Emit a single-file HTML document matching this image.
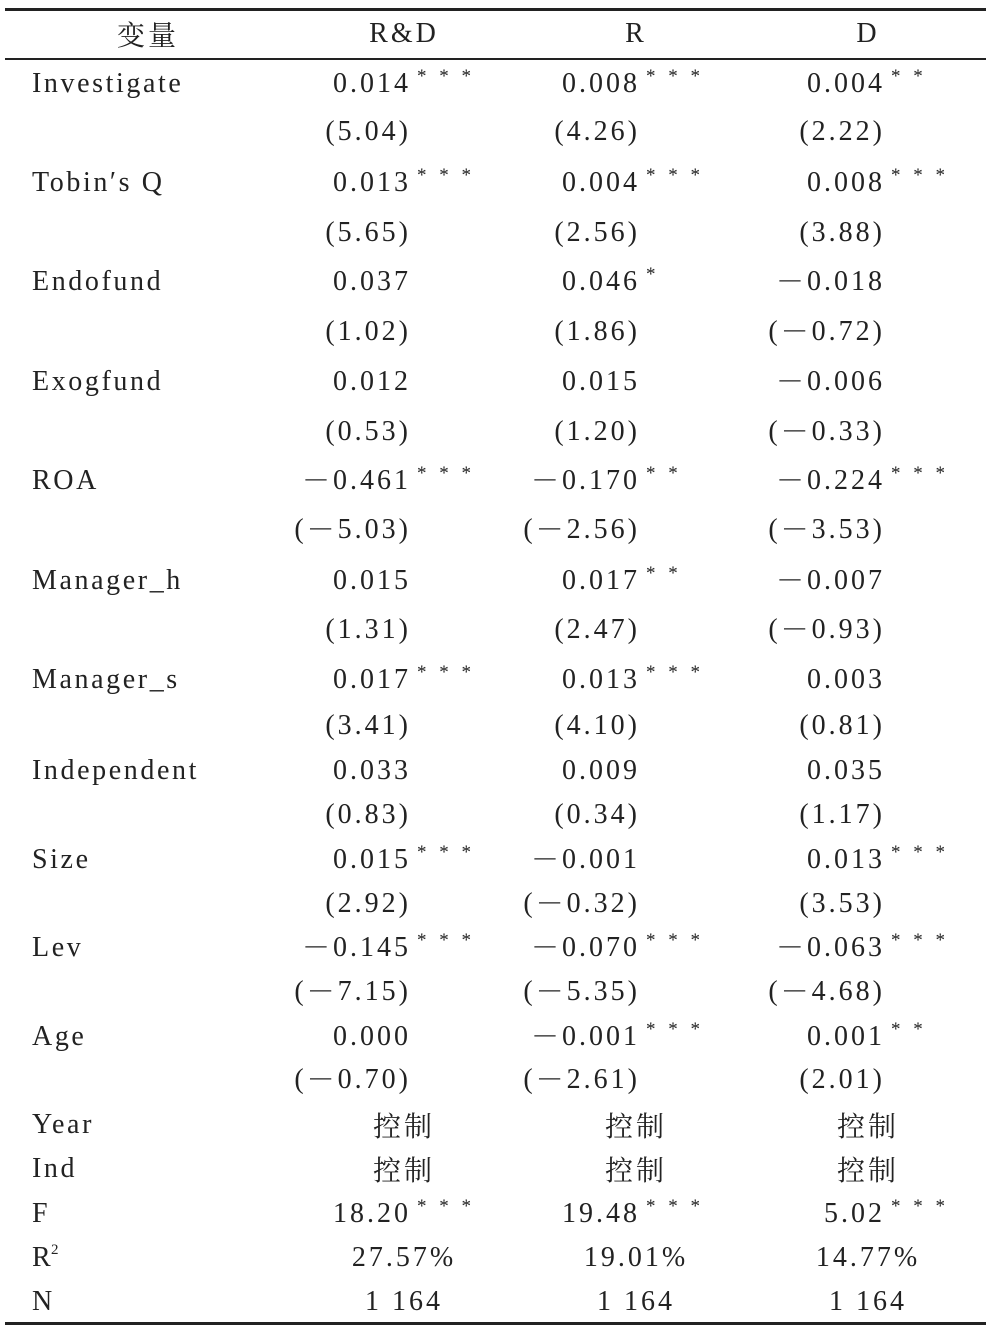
<!DOCTYPE html>
<html><head><meta charset="utf-8"><style>
html,body{margin:0;padding:0;background:#fff;}
body{width:992px;height:1328px;position:relative;overflow:hidden;font-family:"Liberation Serif","Noto Serif CJK SC",serif;color:#222;}
.l{position:absolute;height:40px;line-height:40px;font-size:28px;letter-spacing:2.6px;white-space:nowrap;}
.n{position:absolute;width:300px;height:40px;line-height:40px;font-size:28px;letter-spacing:3px;text-align:right;white-space:nowrap;}
.c{position:absolute;width:300px;height:40px;line-height:40px;font-size:28px;letter-spacing:3px;text-align:center;white-space:nowrap;}
.s{position:absolute;left:100%;top:-7px;margin-left:6px;font-size:19px;letter-spacing:4px;line-height:40px;}
.h{position:absolute;left:5px;width:981px;background:#222;}
.m{font-family:"Noto Serif CJK SC",serif;}
.mm{font-family:"Noto Serif CJK SC",serif;line-height:0;display:inline-block;vertical-align:top;height:40px;line-height:40px;position:relative;top:-2px;}
.sup{position:absolute;left:19px;top:-8px;font-size:15px;}
</style></head><body>
<div class="h" style="top:8px;height:3px"></div>
<div class="h" style="top:58px;height:2px"></div>
<div class="h" style="top:1322px;height:3px"></div>
<div id="t"></div>
<script>
var rows=[
["Investigate",84,["0.014","***"],["0.008","***"],["0.004","**"]],
["",132,["(5.04)"],["(4.26)"],["(2.22)"]],
["Tobin′s Q",183,["0.013","***"],["0.004","***"],["0.008","***"]],
["",233,["(5.65)"],["(2.56)"],["(3.88)"]],
["Endofund",282,["0.037"],["0.046","*"],["－0.018"]],
["",332,["(1.02)"],["(1.86)"],["(－0.72)"]],
["Exogfund",382,["0.012"],["0.015"],["－0.006"]],
["",432,["(0.53)"],["(1.20)"],["(－0.33)"]],
["ROA",481,["－0.461","***"],["－0.170","**"],["－0.224","***"]],
["",530,["(－5.03)"],["(－2.56)"],["(－3.53)"]],
["Manager_h",581,["0.015"],["0.017","**"],["－0.007"]],
["",630,["(1.31)"],["(2.47)"],["(－0.93)"]],
["Manager_s",680,["0.017","***"],["0.013","***"],["0.003"]],
["",726,["(3.41)"],["(4.10)"],["(0.81)"]],
["Independent",771,["0.033"],["0.009"],["0.035"]],
["",815,["(0.83)"],["(0.34)"],["(1.17)"]],
["Size",860,["0.015","***"],["－0.001"],["0.013","***"]],
["",904,["(2.92)"],["(－0.32)"],["(3.53)"]],
["Lev",948,["－0.145","***"],["－0.070","***"],["－0.063","***"]],
["",992,["(－7.15)"],["(－5.35)"],["(－4.68)"]],
["Age",1037,["0.000"],["－0.001","***"],["0.001","**"]],
["",1080,["(－0.70)"],["(－2.61)"],["(2.01)"]]
];
var R=[408,637,882],C=[404,636,868],h="";
function esc(s){return s.replace(/－/g,'<span class="mm">－</span>');}
h+='<div class="c m" style="left:'+(148-150)+'px;top:14px">变量</div>';
["R&amp;D","R","D"].forEach(function(t,i){h+='<div class="c" style="left:'+(C[i]-150)+'px;top:14px">'+t+'</div>';});
rows.forEach(function(r){
 var top=r[1]-20;
 if(r[0])h+='<div class="l" style="left:32px;top:'+top+'px">'+r[0]+'</div>';
 for(var i=0;i<3;i++){var v=r[2+i];
  h+='<div class="n" style="left:'+(R[i]-300+3)+'px;top:'+top+'px">'+esc(v[0])+(v[1]?'<span class="s">'+v[1].split("").join(" ")+'</span>':'')+'</div>';}
});
var bot=[["Year",1125,["控制","控制","控制"]],["Ind",1169,["控制","控制","控制"]],
["F",1214,[["18.20","***"],["19.48","***"],["5.02","***"]]],
["R<span class=\"sup\">2</span>",1258,["27.57%","19.01%","14.77%"]],
["N",1302,["1 164","1 164","1 164"]]];
bot.forEach(function(r){var top=r[1]-20;
 h+='<div class="l" style="left:32px;top:'+top+'px">'+r[0]+'</div>';
 for(var i=0;i<3;i++){var v=r[2][i];
  if(typeof v==="string"){h+='<div class="c'+(v=="控制"?' m':'')+'" style="left:'+(C[i]-150)+'px;top:'+top+'px">'+v+'</div>';}
  else h+='<div class="n" style="left:'+(R[i]-300+3)+'px;top:'+top+'px">'+v[0]+'<span class="s">'+v[1].split("").join(" ")+'</span></div>';}
});
document.getElementById("t").innerHTML=h;
</script>
</body></html>
